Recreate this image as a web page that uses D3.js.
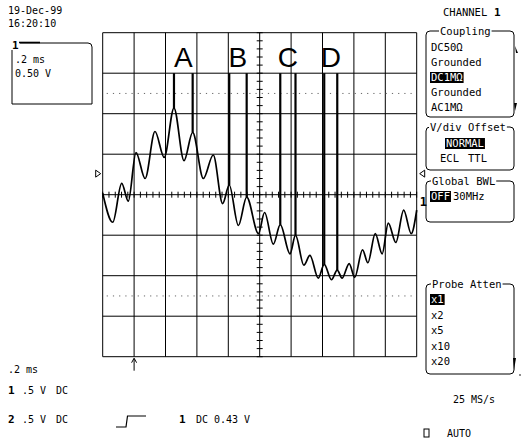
<!DOCTYPE html>
<html><head><meta charset="utf-8">
<script src="https://cdn.jsdelivr.net/npm/d3@7"></script>
<style>
body{margin:0;background:#fff;}
svg{display:block;}
text{font-family:"DejaVu Sans Mono",monospace;fill:#000;}
</style></head><body>
<svg id="c" width="524" height="446"></svg>
<script>
// ---------- data ----------
const waveTime = [0.000,0.064,0.121,0.163,0.212,0.270,0.333,0.392,0.454,0.518,0.573,0.641,0.704,0.764,0.806,0.864,0.917,0.992,1.031,1.087,1.131,1.193,1.228,1.281,1.320,1.373,1.411,1.457,1.494,1.525,1.570,1.605,1.655,1.689,1.736,1.780,1.819,1.867,1.917,1.965,2.000];
const waveVolt = [0.02,-0.34,0.14,-0.08,0.52,0.20,0.78,0.46,1.07,0.42,0.77,0.20,0.49,-0.11,0.12,-0.38,-0.03,-0.48,-0.22,-0.61,-0.37,-0.73,-0.50,-0.87,-0.75,-1.03,-0.86,-1.05,-0.93,-1.03,-0.85,-1.02,-0.68,-0.84,-0.48,-0.73,-0.35,-0.59,-0.19,-0.48,-0.19];
const cursorLabels = ["A","B","C","D"];
const cursorStart = [0.454,0.806,1.131,1.411];
const cursorEnd   = [0.573,0.917,1.228,1.494];
const cursorTopVolt = 1.5;
const timeTicks = d3.range(0, 2.0001, 0.2);      // ms, 0.2 ms/div
const voltTicks = d3.range(-2, 2.0001, 0.5);     // V, 0.5 V/div
const dottedLevels = [1.25, -1.25];
const triggerLevel = 0.26;
const triggerTime = 0.2;
const couplingOptions = ["DC50Ω","Grounded","DC1MΩ","Grounded","AC1MΩ"];
const couplingSel = 2;
const probeOptions = ["x1","x2","x5","x10","x20"];
const probeSel = 0;

// ---------- layout ----------
const svg = d3.select("#c");
const X0=102.7, X1=416.7, Y0=32.7, Y1=356.7;
const x = d3.scaleLinear().domain([0,2]).range([X0,X1]);
const y = d3.scaleLinear().domain([-2,2]).range([Y1,Y0]);
const g = svg.append("g");

// grid
g.selectAll(".vg").data(timeTicks).join("line")
  .attr("x1",d=>x(d)).attr("x2",d=>x(d)).attr("y1",Y0).attr("y2",Y1)
  .attr("stroke","#000").attr("stroke-width",1);
g.selectAll(".hg").data(voltTicks).join("line")
  .attr("y1",d=>y(d)).attr("y2",d=>y(d)).attr("x1",X0).attr("x2",X1)
  .attr("stroke","#000").attr("stroke-width",1);
// dotted levels
g.selectAll(".dl").data(dottedLevels).join("line")
  .attr("y1",d=>y(d)).attr("y2",d=>y(d)).attr("x1",X0+4).attr("x2",X1-4)
  .attr("stroke","#666").attr("stroke-width",1).attr("stroke-dasharray","1.2,5");
// minor ticks on center axes
const minorT = d3.range(0, 2.0001, 0.04);
g.selectAll(".mt").data(minorT).join("line")
  .attr("x1",d=>x(d)).attr("x2",d=>x(d)).attr("y1",y(0)-3).attr("y2",y(0)+3)
  .attr("stroke","#000").attr("stroke-width",1);
const minorV = d3.range(-2, 2.0001, 0.1);
g.selectAll(".mv").data(minorV).join("line")
  .attr("y1",d=>y(d)).attr("y2",d=>y(d)).attr("x1",x(1)-3).attr("x2",x(1)+3)
  .attr("stroke","#000").attr("stroke-width",1);

// waveform
const pts = waveTime.map((t,i)=>[t,waveVolt[i]]);
const line = d3.line().x(d=>x(d[0])).y(d=>y(d[1])).curve(d3.curveMonotoneX);
g.append("path").attr("d",line(pts)).attr("fill","none")
  .attr("stroke","#000").attr("stroke-width",1.7);

// cursors
function voltAt(t){ let best=pts[0]; pts.forEach(p=>{ if(Math.abs(p[0]-t)<Math.abs(best[0]-t)) best=p;}); return best[1]; }
cursorLabels.forEach((lab,i)=>{
  [cursorStart[i],cursorEnd[i]].forEach(t=>{
    g.append("line").attr("x1",x(t)).attr("x2",x(t))
      .attr("y1",y(cursorTopVolt)).attr("y2",y(voltAt(t)))
      .attr("stroke","#000").attr("stroke-width",2.2);
  });
  g.append("text").attr("x",(x(cursorStart[i])+x(cursorEnd[i]))/2).attr("y",66.7)
    .attr("text-anchor","middle").style("font-family","'Liberation Sans',Arial,sans-serif")
    .attr("font-size",28).text(lab);
});

// trigger level markers
const ty = y(triggerLevel);
g.append("path").attr("d",`M${X0-7},${ty-3.5}L${X0-2},${ty}L${X0-7},${ty+3.5}Z`).attr("fill","none").attr("stroke","#000");
g.append("path").attr("d",`M${X1+8},${ty-3.5}L${X1+3},${ty}L${X1+8},${ty+3.5}Z`).attr("fill","none").attr("stroke","#000");
// ground marker "1"
g.append("text").attr("x",X1+3).attr("y",206).attr("font-size",12).attr("font-weight","bold").text("1");
// trigger position arrow
const ax = x(triggerTime);
g.append("line").attr("x1",ax).attr("x2",ax).attr("y1",Y1+2).attr("y2",Y1+14).attr("stroke","#000");
g.append("path").attr("d",`M${ax-2.5},${Y1+6}L${ax},${Y1+1.5}L${ax+2.5},${Y1+6}`).attr("fill","none").attr("stroke","#000");

// ---------- text helpers ----------
function txt(xp,yp,s,size,extra){ const t=svg.append("text").attr("x",xp).attr("y",yp).attr("font-size",size||10.5).text(s); if(extra) extra(t); return t; }

// top left
txt(8,14,"19-Dec-99",10);
txt(8,27,"16:20:10",10);
svg.append("path").attr("d","M20,43H88Q92,43 92,47V104H12V50").attr("fill","none").attr("stroke","#000");
svg.append("line").attr("x1",19).attr("x2",40).attr("y1",42.5).attr("y2",42.5).attr("stroke","#000").attr("stroke-width",1.6);
txt(12,49,"1",11,t=>t.attr("font-weight","bold"));
txt(15,63,".2 ms",10);
txt(15,77,"0.50 V",10);

// bottom texts
txt(8,373,".2 ms",10);
[[394,"1"],[423,"2"]].forEach(([yy,ch])=>{
  txt(8,yy,ch,11,t=>t.attr("font-weight","bold"));
  txt(22,yy,".5",10); txt(40,yy,"V",10); txt(56,yy,"DC",10);
});
svg.append("path").attr("d","M116,427H126L127.5,416H146").attr("fill","none").attr("stroke","#000").attr("stroke-width",1.2);
txt(179,423,"1",11,t=>t.attr("font-weight","bold"));
txt(196,423,"DC",10); txt(214,423,"0.43",10); txt(244,423,"V",10);
txt(453,403,"25 MS/s",10);
svg.append("rect").attr("x",424).attr("y",429).attr("width",5).attr("height",8).attr("fill","none").attr("stroke","#000");
txt(447,437,"AUTO",10);

// right panel
txt(443,16,"CHANNEL",10.5);
txt(494,16,"1",11,t=>t.attr("font-weight","bold"));
function box(top,bottom,title,titleX){
  const L=426,R=514,r=4;
  svg.append("path").attr("d",`M${L+r},${top}H${R-r}Q${R},${top} ${R},${top+r}V${bottom-r}Q${R},${bottom} ${R-r},${bottom}H${L+r}Q${L},${bottom} ${L},${bottom-r}V${top+r}Q${L},${top} ${L+r},${top}`)
    .attr("fill","none").attr("stroke","#000").attr("stroke-width",1);
  const t = txt(titleX,top+4,title,10.5);
  const bb = t.node().getBBox();
  svg.insert("rect",()=>t.node()).attr("x",bb.x-1).attr("y",top-2).attr("width",bb.width+2).attr("height",4).attr("fill","#fff");
}
function hl(xp,yp,s){
  const t = txt(xp,yp,s,10.5);
  const bb=t.node().getBBox();
  svg.insert("rect",()=>t.node()).attr("x",bb.x-1).attr("y",yp-9).attr("width",bb.width+2).attr("height",11).attr("fill","#000");
  t.style("fill","#fff");
}
box(31,117,"Coupling",440);
couplingOptions.forEach((s,i)=>{ const yy=51+i*15; if(i===couplingSel) hl(431,yy,s); else txt(431,yy,s,10.5); });
svg.append("path").attr("d","M515,46L518,53L516,53Z").attr("fill","#000");
svg.append("path").attr("d","M514,103L517,103L515,111Z").attr("fill","#000");

box(127,170,"V/div Offset",430);
hl(446,147,"NORMAL");
txt(440,162,"ECL",10.5); txt(468,162,"TTL",10.5);

box(181,222,"Global BWL",432);
hl(431,200,"OFF");
txt(453,200,"30MHz",10.5);

box(284,374,"Probe Atten",432);
probeOptions.forEach((s,i)=>{ const yy=303+i*15.5; if(i===probeSel) hl(431,yy,s); else txt(431,yy,s,10.5); });
svg.append("path").attr("d","M513,358L516,358L514,370Z").attr("fill","#000");
svg.append("circle").attr("cx",520).attr("cy",375).attr("r",0.8).attr("fill","#000");
</script></body></html>
